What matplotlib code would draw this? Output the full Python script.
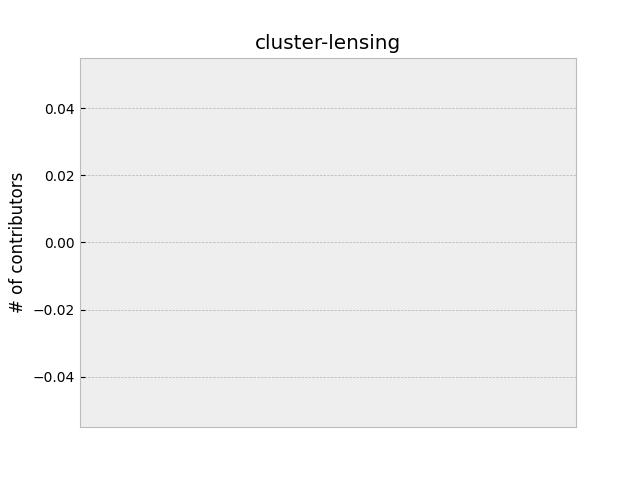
import matplotlib
matplotlib.use('Agg')
import matplotlib.pyplot as plt

# repo has no contributor data, so the series is empty
months = []
contributors = []

plt.style.use('bmh')

fig, ax = plt.subplots(figsize=(6.4, 4.8), dpi=100)
ax.plot(months, contributors)
ax.set_title('cluster-lensing')
ax.set_ylabel('# of contributors')
ax.set_xticks([])
ax.grid(axis='x', visible=False)

fig.savefig('out.png')
